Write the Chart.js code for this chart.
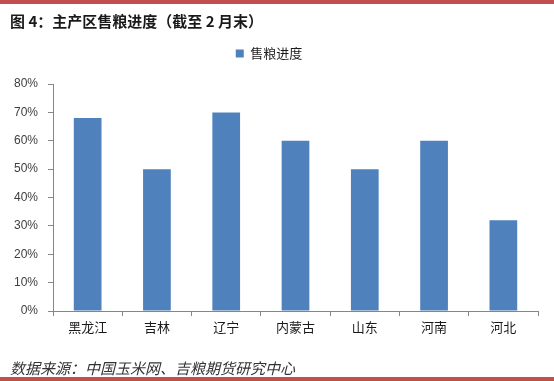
<!DOCTYPE html>
<html>
<head>
<meta charset="utf-8">
<script src="https://cdn.jsdelivr.net/npm/chart.js@4/dist/chart.umd.min.js"></script>
<style>
  html, body { margin:0; padding:0; background:#fff; }
  #wrap { position:relative; width:554px; height:381px; overflow:hidden; }
  .rule { position:absolute; left:0; width:554px; height:4px; background:#c0504d; }
  #title { position:absolute; left:10px; top:10px; font:bold 15px "Noto Sans CJK SC", sans-serif; color:#1a1a1a; white-space:nowrap; }
  #source { position:absolute; left:10px; top:357px; font:italic 15px "Noto Sans CJK SC", sans-serif; color:#333; white-space:nowrap; }
  canvas { position:absolute; left:0; top:0; }
</style>
</head>
<body>
<div id="wrap">
  <canvas id="c" width="554" height="381"></canvas>
  <div class="rule" style="top:0"></div>
  <div id="title">图 4：主产区售粮进度（截至 2 月末）</div>
  <div id="source">数据来源：中国玉米网、吉粮期货研究中心</div>
  <div class="rule" style="top:377px"></div>
</div>
<script>
const regions = ['黑龙江', '吉林', '辽宁', '内蒙古', '山东', '河南', '河北'];
const progress = [68, 50, 70, 60, 50, 60, 32];   // 售粮进度, %
const seriesName = '售粮进度';

const axisCol = '#868686';
const labelFont = { family: '"Noto Sans CJK SC", sans-serif', size: 13 };

// extra room under the legend, like the gap in the original sheet
const legendGap = {
  id: 'legendGap',
  afterInit(chart) {
    const fit = chart.legend.fit;
    chart.legend.fit = function () {
      fit.call(this);
      this.height += 14;
    };
  }
};

new Chart(document.getElementById('c'), {
  type: 'bar',
  data: {
    labels: regions,
    datasets: [{
      label: seriesName,
      data: progress,
      backgroundColor: '#4f81bd',
      borderWidth: 0,
      barPercentage: 0.4,
      categoryPercentage: 1
    }]
  },
  plugins: [legendGap],
  options: {
    responsive: false,
    animation: false,
    layout: { padding: { top: 35, right: 16, bottom: 40, left: 0 } },
    plugins: {
      legend: {
        display: true,
        position: 'top',
        labels: { boxWidth: 8, boxHeight: 8, padding: 12, color: '#1a1a1a', font: labelFont }
      },
      tooltip: { enabled: false }
    },
    scales: {
      x: {
        grid: { drawOnChartArea: false, drawTicks: true, tickLength: 5, color: axisCol },
        border: { color: axisCol },
        ticks: { color: '#1a1a1a', font: labelFont, padding: 3, maxRotation: 0 },
        afterFit: s => { s.height = 30; }
      },
      y: {
        min: 0, max: 80,
        grid: { drawOnChartArea: false, drawTicks: true, tickLength: 5, color: axisCol },
        border: { color: axisCol },
        ticks: {
          stepSize: 10,
          color: '#404040',
          font: { family: '"Liberation Sans", sans-serif', size: 12 },
          padding: 10,
          callback: v => v + '%'
        },
        afterFit: s => { s.width = 53; }
      }
    }
  }
});
</script>
</body>
</html>
